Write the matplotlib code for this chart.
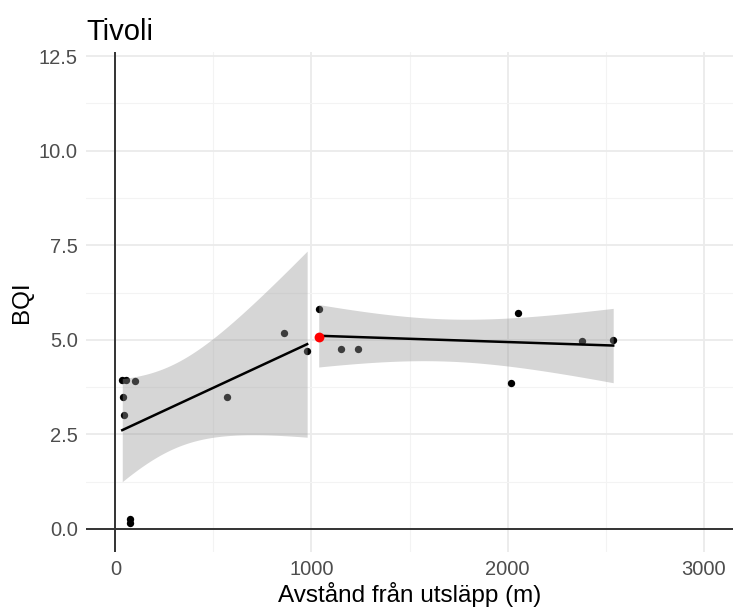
import numpy as np
import matplotlib
matplotlib.use("Agg")
import matplotlib.pyplot as plt
from matplotlib.ticker import MultipleLocator

plt.rcParams['font.family'] = ['Liberation Sans', 'DejaVu Sans']

# data (distance in m, BQI)
near_dist = [35, 55, 100, 37, 44, 75, 75, 569, 861, 978]
near_bqi = [3.95, 3.95, 3.90, 3.50, 3.00, 0.26, 0.15, 3.50, 5.19, 4.70]
far_dist = [1037, 1149, 1239, 2020, 2052, 2381, 2539]
far_bqi = [5.81, 4.77, 4.75, 3.87, 5.72, 4.98, 4.99]
outlet_dist = [1037]
outlet_bqi = [5.08]

# two-sided 95% t quantiles by degrees of freedom
T975 = {5: 2.570582, 6: 2.446912, 7: 2.364624, 8: 2.306004, 9: 2.262157}


def lm_band(x, y, n_grid=80):
    x = np.asarray(x, float)
    y = np.asarray(y, float)
    n = len(x)
    slope, icept = np.polyfit(x, y, 1)
    resid = y - (icept + slope * x)
    s = np.sqrt(np.sum(resid ** 2) / (n - 2))
    xm = x.mean()
    sxx = np.sum((x - xm) ** 2)
    xs = np.linspace(x.min(), x.max(), n_grid)
    fit = icept + slope * xs
    se = s * np.sqrt(1 / n + (xs - xm) ** 2 / sxx)
    t = T975[n - 2]
    return xs, fit, fit - t * se, fit + t * se


fig = plt.figure(figsize=(7.33, 6.08), dpi=100)
ax = fig.add_axes([86 / 733, 56 / 608, (733 - 86) / 733, (552 - 52) / 608])

ax.set_xlim(-150, 3150)
ax.set_ylim(-0.61, 12.61)
ax.xaxis.set_major_locator(MultipleLocator(1000))
ax.xaxis.set_minor_locator(MultipleLocator(500))
ax.yaxis.set_major_locator(MultipleLocator(2.5))
ax.yaxis.set_minor_locator(MultipleLocator(1.25))
ax.yaxis.set_major_formatter(plt.FuncFormatter(lambda v, p: f"{v:.1f}"))

ax.grid(which='major', color='#EBEBEB', linewidth=1.3)
ax.grid(which='minor', color='#F3F3F3', linewidth=0.8)
ax.set_axisbelow(True)
for sp in ax.spines.values():
    sp.set_visible(False)
ax.tick_params(which='both', length=0, labelsize=14.5, labelcolor='#4D4D4D')
ax.tick_params(axis='x', pad=6)
ax.tick_params(axis='y', pad=6)

ax.axhline(0, color='#333333', linewidth=1.4, zorder=1)
ax.axvline(0, color='#333333', linewidth=1.4, zorder=1)

# points first, smooth on top (like geom_point + geom_smooth)
ax.scatter(near_dist + far_dist, near_bqi + far_bqi, s=28, color='black',
           linewidths=0, zorder=2)

all_far_x = outlet_dist + far_dist
all_far_y = outlet_bqi + far_bqi
for gx, gy in [(near_dist, near_bqi), (all_far_x, all_far_y)]:
    xs, fit, lo, hi = lm_band(gx, gy)
    ax.fill_between(xs, lo, hi, color='#999999', alpha=0.4, linewidth=0, zorder=3)
    ax.plot(xs, fit, color='black', linewidth=1.8, zorder=4)

ax.scatter(outlet_dist, outlet_bqi, s=50, color='#FF0000', linewidths=0, zorder=5)

ax.set_xlabel("Avstånd från utsläpp (m)", fontsize=17.5, labelpad=2)
ax.set_ylabel("BQI", fontsize=17.5, labelpad=4)
ax.set_title("Tivoli", fontsize=21, loc='left', pad=9)

fig.savefig("out.png", dpi=100)
